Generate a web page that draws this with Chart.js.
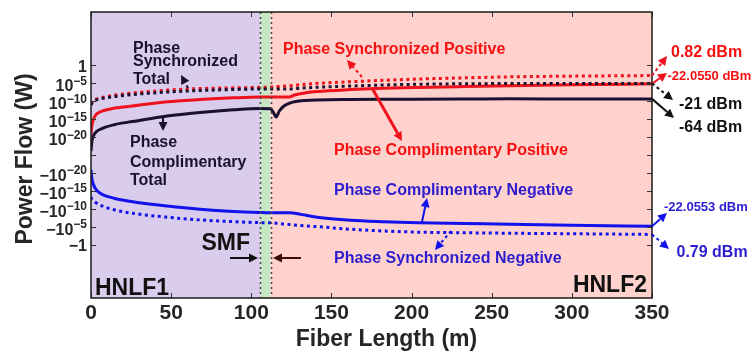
<!DOCTYPE html>
<html>
<head>
<meta charset="utf-8">
<script src="https://cdn.jsdelivr.net/npm/chart.js@4.4.1/dist/chart.umd.min.js"></script>
<style>
  html, body { margin: 0; padding: 0; background: #fff; }
  canvas { display: block; }
</style>
</head>
<body>
<canvas id="chart" width="751" height="352"></canvas>
<script>
// Fiber position of every sample (m)
const lengthM = [0, 0.5, 1, 2.5, 5.5, 15, 26, 47.5, 68, 89, 105.5, 112, 114, 115.5, 117.5,
                 120, 124, 127, 134, 141, 162, 182, 204, 233, 262, 300, 350];

// Power flow of each component along the fiber (W); negative-going flows are signed
const syncPositive = [1.5e-11, 3.8e-11, 7.2e-11, 2.6e-10, 6.8e-10, 4.6e-9, 1.7e-8, 1.1e-7, 3.0e-7, 4.6e-7,
                      6.4e-7, 7.7e-7, 8.8e-7, 1.0e-6, 1.1e-6, 1.3e-6, 1.8e-6, 2.4e-6, 4.6e-6, 8.3e-6,
                      2.3e-5, 5.6e-5, 1.3e-4, 2.8e-4, 5.3e-4, 8.3e-4, 1.208e-3];
const complPositive = [6.8e-20, 1.1e-17, 1.5e-16, 6.8e-15, 8.8e-14, 1.1e-12, 4.1e-12, 6.4e-11, 2.6e-10, 7.7e-10,
                       1.3e-9, 1.3e-9, 1.3e-9, 1.3e-9, 1.3e-9, 1.3e-9, 1.4e-9, 4.6e-9, 1.9e-8, 4.4e-8,
                       1.5e-7, 3.4e-7, 6.0e-7, 1.07e-6, 1.8e-6, 3.2e-6, 6.229e-6];
const syncTotal = [7.7e-12, 2.0e-11, 3.8e-11, 1.4e-10, 3.6e-10, 1.8e-9, 6.4e-9, 3.2e-8, 8.3e-8, 1.6e-7,
                   2.2e-7, 2.2e-7, 2.2e-7, 2.2e-7, 2.2e-7, 2.2e-7, 2.3e-7, 3.0e-7, 4.6e-7, 6.8e-7,
                   1.5e-6, 2.8e-6, 4.6e-6, 6.4e-6, 7.2e-6, 7.6e-6, 7.943e-6];
const complTotal = [1.3e-24, 4.1e-22, 5.3e-21, 1.3e-19, 1.2e-18, 3.0e-17, 2.0e-16, 6.8e-15, 6.4e-14, 3.6e-13,
                    8.3e-13, 6.8e-13, 4.6e-14, 3.6e-15, 1.7e-13, 3.0e-12, 2.8e-11, 6.4e-11, 1.4e-10, 1.9e-10,
                    2.6e-10, 3.0e-10, 3.2e-10, 3.6e-10, 4.1e-10, 3.9e-10, 3.981e-10];
const complNegative = [-1.5e-21, -2.5e-19, -3.2e-18, -1.5e-16, -3.6e-15, -1.2e-13, -9.3e-13, -1.5e-11, -1.2e-10, -4.9e-10,
                       -9.3e-10, -1.07e-9, -1.07e-9, -1.07e-9, -1.07e-9, -1.07e-9, -1.07e-9, -1.6e-9, -5.6e-9, -2.0e-8,
                       -1.4e-7, -3.4e-7, -6.4e-7, -1.07e-6, -1.8e-6, -3.4e-6, -6.229e-6];
const syncNegative = [-4.6e-14, -1.7e-13, -3.2e-13, -1.1e-12, -7.7e-12, -1.9e-10, -1.6e-9, -2.0e-8, -1.1e-7, -3.4e-7,
                      -6.4e-7, -6.8e-7, -7.7e-7, -9.3e-7, -1.1e-6, -1.5e-6, -2.2e-6, -3.0e-6, -5.3e-6, -8.3e-6,
                      -4.4e-5, -1.3e-4, -2.8e-4, -4.1e-4, -5.6e-4, -7.7e-4, -1.2e-3];

// Fiber sections: HNLF1 | SMF | HNLF2 (m)
const sectionBounds = [0, 105.5, 112, 350];
const sectionNames = ['HNLF1', 'SMF', 'HNLF2'];

// Axis ticks
const xTickStep = 50;
const yTickValues = [1, 1e-5, 1e-10, 1e-15, 1e-20, 0, -1e-20, -1e-15, -1e-10, -1e-5, -1];

// ---- signed logarithmic power axis: 5 decades per step, |P| below 1e-25 W folds onto zero ----
const DECADES_PER_STEP = 5;
const FLOOR_EXP = -25;
function toSteps(v) {
  if (!v) return 0;
  const s = (Math.log10(Math.abs(v)) - FLOOR_EXP) / DECADES_PER_STEP;
  return Math.sign(v) * Math.max(s, 0);
}
function fromSteps(t) {
  if (!t) return 0;
  return Math.sign(t) * Math.pow(10, Math.abs(t) * DECADES_PER_STEP + FLOOR_EXP);
}
class SignedLogScale extends Chart.LinearScale {
  buildTicks() { return yTickValues.map(v => ({ value: v })); }
  getPixelForValue(v) {
    if (v === null || v === undefined || isNaN(v)) return NaN;
    return super.getPixelForValue(toSteps(v));
  }
  getValueForPixel(p) { return fromSteps(super.getValueForPixel(p)); }
}
SignedLogScale.id = 'signedlog';
SignedLogScale.defaults = Chart.LinearScale.defaults;
Chart.register(SignedLogScale);

// ---- styles ----
const FONT = "'Liberation Sans', Arial, Helvetica, sans-serif";
const AXIS_INK = '#262626';
const NAVY = '#1a1030';
const RED_LINE = 'rgb(238,18,28)';
const RED_TEXT = 'rgb(246,16,16)';
const BLUE_LINE = 'rgb(18,18,236)';
const BLUE_TEXT = 'rgb(44,28,208)';
const DOTS = [3, 3.5];
const sectionFills = ['rgb(217,204,236)', 'rgb(198,230,196)', 'rgb(255,210,205)'];

const series = [
  { label: 'Phase Synchronized Total',    data: syncTotal,     color: NAVY,      dash: DOTS },
  { label: 'Phase Synchronized Positive', data: syncPositive,  color: RED_LINE,  dash: DOTS },
  { label: 'Phase Synchronized Negative', data: syncNegative,  color: BLUE_LINE, dash: DOTS },
  { label: 'Phase Complimentary Total',    data: complTotal,    color: NAVY,      dash: [] },
  { label: 'Phase Complimentary Positive', data: complPositive, color: RED_LINE,  dash: [] },
  { label: 'Phase Complimentary Negative', data: complNegative, color: BLUE_LINE, dash: [] }
];

function font(size) { return 'bold ' + size + 'px ' + FONT; }

// Annotation texts (canvas px, alphabetic baseline)
const notes = [
  { t: 'Phase', x: 133, y: 52.5, size: 16, color: NAVY },
  { t: 'Synchronized', x: 133, y: 66, size: 16, color: NAVY },
  { t: 'Total', x: 133, y: 84, size: 16, color: NAVY },
  { t: 'Phase', x: 130, y: 146.7, size: 16, color: NAVY },
  { t: 'Complimentary', x: 130, y: 166.7, size: 16, color: NAVY },
  { t: 'Total', x: 130, y: 185.4, size: 16, color: NAVY },
  { t: 'Phase Synchronized Positive', x: 283, y: 54, size: 16, color: RED_TEXT },
  { t: 'Phase Complimentary Positive', x: 334, y: 155.4, size: 16, color: RED_TEXT },
  { t: 'Phase Complimentary Negative', x: 334, y: 195, size: 16, color: BLUE_TEXT },
  { t: 'Phase Synchronized Negative', x: 334, y: 263.2, size: 16, color: BLUE_TEXT },
  { t: 'SMF', x: 201.5, y: 250, size: 23, color: '#111' },
  { t: 'HNLF1', x: 95, y: 295, size: 23, color: '#111' },
  { t: 'HNLF2', x: 647, y: 291.7, size: 23, color: '#111', align: 'right' },
  { t: '0.82 dBm', x: 671, y: 56.5, size: 16, color: RED_TEXT },
  { t: '-22.0550 dBm', x: 667.5, y: 80.2, size: 13, color: RED_TEXT },
  { t: '-21 dBm', x: 679, y: 109, size: 16, color: '#111' },
  { t: '-64 dBm', x: 679, y: 131.7, size: 16, color: '#111' },
  { t: '-22.0553 dBm', x: 664, y: 210.7, size: 13, color: BLUE_TEXT },
  { t: '0.79 dBm', x: 676.5, y: 257.3, size: 16, color: BLUE_TEXT }
];

// Pointer arrows inside the plot (canvas px)
const pointers = [
  { x1: 188, y1: 88, x2: 181, y2: 75, color: NAVY, dash: true, w: 2 },
  { x1: 163, y1: 116, x2: 163, y2: 131, color: NAVY, dash: false, w: 2 },
  { x1: 362, y1: 77, x2: 347, y2: 60, color: RED_LINE, dash: true, w: 2 },
  { x1: 372, y1: 88, x2: 402, y2: 141, color: RED_LINE, dash: false, w: 3 },
  { x1: 422, y1: 222, x2: 427, y2: 198, color: BLUE_LINE, dash: false, w: 2 },
  { x1: 451, y1: 231, x2: 435, y2: 250, color: BLUE_LINE, dash: true, w: 2 },
  { x1: 230, y1: 258, x2: 258, y2: 258, color: '#111', dash: false, w: 2 },
  { x1: 301, y1: 258, x2: 273, y2: 258, color: '#3a0d0d', dash: false, w: 2 }
];

// Arrows from the fiber end of a series to its output-power label
const endPointers = [
  { data: syncPositive,  x2: 667, y2: 56,  color: RED_LINE,  dash: true },
  { data: complPositive, x2: 667, y2: 73,  color: RED_LINE,  dash: false },
  { data: syncTotal,     x2: 673, y2: 100, color: '#111',    dash: true },
  { data: complTotal,    x2: 674, y2: 118, color: '#111',    dash: false },
  { data: complNegative, x2: 667, y2: 213, color: BLUE_LINE, dash: false },
  { data: syncNegative,  x2: 669, y2: 249, color: BLUE_LINE, dash: true }
];

function drawArrow(ctx, x1, y1, x2, y2, color, dashed, w) {
  const ang = Math.atan2(y2 - y1, x2 - x1);
  const hl = 9, hw = 4.5;
  const bx = x2 - hl * Math.cos(ang), by = y2 - hl * Math.sin(ang);
  ctx.save();
  ctx.strokeStyle = color; ctx.fillStyle = color; ctx.lineWidth = w;
  ctx.setLineDash(dashed ? [3, 3] : []);
  ctx.beginPath(); ctx.moveTo(x1, y1); ctx.lineTo(bx, by); ctx.stroke();
  ctx.setLineDash([]);
  ctx.beginPath();
  ctx.moveTo(x2, y2);
  ctx.lineTo(bx + hw * Math.sin(ang), by - hw * Math.cos(ang));
  ctx.lineTo(bx - hw * Math.sin(ang), by + hw * Math.cos(ang));
  ctx.closePath(); ctx.fill();
  ctx.restore();
}

function tickParts(v) {
  if (v === 0) return null;
  const sign = v < 0 ? '\u2212' : '';
  const e = Math.round(Math.log10(Math.abs(v)));
  if (e === 0) return { base: sign + '1', exp: '' };
  return { base: sign + '10', exp: (e < 0 ? '\u2212' : '') + Math.abs(e) };
}

const decorPlugin = {
  id: 'fiberDecor',
  beforeDatasetsDraw(chart) {
    const { ctx, chartArea: a, scales: { x } } = chart;
    ctx.save();
    for (let i = 0; i < sectionFills.length; i++) {
      const x0 = x.getPixelForValue(sectionBounds[i]);
      const x1 = x.getPixelForValue(sectionBounds[i + 1]);
      ctx.fillStyle = sectionFills[i];
      ctx.fillRect(x0, a.top, x1 - x0, a.bottom - a.top);
    }
    ctx.restore();
  },
  afterDatasetsDraw(chart) {
    const { ctx, chartArea: a, scales: { x, y } } = chart;
    ctx.save();
    // SMF section dividers
    ctx.strokeStyle = '#4a4a4a'; ctx.lineWidth = 1.6; ctx.setLineDash([2, 3]);
    [sectionBounds[1], sectionBounds[2]].forEach(v => {
      const px = Math.round(x.getPixelForValue(v)) + 0.5;
      ctx.beginPath(); ctx.moveTo(px, a.top); ctx.lineTo(px, a.bottom); ctx.stroke();
    });
    ctx.setLineDash([]);
    // inward tick marks on all four sides
    ctx.strokeStyle = '#333'; ctx.lineWidth = 1;
    x.ticks.forEach((t, i) => {
      const px = Math.round(x.getPixelForTick(i)) + 0.5;
      ctx.beginPath();
      ctx.moveTo(px, a.bottom); ctx.lineTo(px, a.bottom - 5);
      ctx.moveTo(px, a.top); ctx.lineTo(px, a.top + 5);
      ctx.stroke();
    });
    y.ticks.forEach((t, i) => {
      const py = Math.round(y.getPixelForTick(i)) + 0.5;
      ctx.beginPath();
      ctx.moveTo(a.left, py); ctx.lineTo(a.left + 5, py);
      ctx.moveTo(a.right, py); ctx.lineTo(a.right - 5, py);
      ctx.stroke();
    });
    // axes box
    ctx.strokeStyle = '#1a1a1a'; ctx.lineWidth = 1.5;
    ctx.strokeRect(a.left, a.top, a.right - a.left, a.bottom - a.top);
    ctx.restore();
  },
  afterDraw(chart) {
    const { ctx, chartArea: a, scales: { x, y } } = chart;
    ctx.save();
    // power tick labels with superscript exponents
    ctx.fillStyle = AXIS_INK; ctx.textAlign = 'left'; ctx.textBaseline = 'alphabetic';
    y.ticks.forEach((t, i) => {
      const p = tickParts(t.value);
      if (!p) return;
      const py = y.getPixelForTick(i);
      ctx.font = font(16);
      const wb = ctx.measureText(p.base).width;
      ctx.font = font(12);
      const we = p.exp ? ctx.measureText(p.exp).width : 0;
      const x0 = a.left - 4 - wb - we;
      ctx.font = font(16);
      ctx.fillText(p.base, x0, py + (p.exp ? 8 : 6.5));
      if (p.exp) { ctx.font = font(12); ctx.fillText(p.exp, x0 + wb, py + 1.5); }
    });
    // axis titles
    ctx.font = font(23); ctx.textAlign = 'center';
    ctx.fillText('Fiber Length (m)', 386.5, 346);
    ctx.save();
    ctx.translate(31.5, 159); ctx.rotate(-Math.PI / 2);
    ctx.fillText('Power Flow (W)', 0, 0);
    ctx.restore();
    // annotations
    notes.forEach(n => {
      ctx.font = font(n.size); ctx.fillStyle = n.color; ctx.textAlign = n.align || 'left';
      ctx.fillText(n.t, n.x, n.y);
    });
    pointers.forEach(p => drawArrow(ctx, p.x1, p.y1, p.x2, p.y2, p.color, p.dash, p.w));
    const xEnd = x.getPixelForValue(lengthM[lengthM.length - 1]);
    endPointers.forEach(p => {
      const yEnd = y.getPixelForValue(p.data[p.data.length - 1]);
      drawArrow(ctx, xEnd, yEnd, p.x2, p.y2, p.color, p.dash, 2);
    });
    ctx.restore();
  }
};

new Chart(document.getElementById('chart'), {
  type: 'line',
  data: {
    datasets: series.map(s => ({
      label: s.label,
      data: lengthM.map((m, i) => ({ x: m, y: s.data[i] })),
      borderColor: s.color,
      borderWidth: 3,
      borderDash: s.dash,
      borderCapStyle: 'butt',
      pointRadius: 0,
      cubicInterpolationMode: 'monotone',
      fill: false
    }))
  },
  options: {
    responsive: false,
    devicePixelRatio: 1,
    animation: false,
    events: [],
    layout: { padding: { top: 12, right: 99, left: 0, bottom: 0 } },
    plugins: { legend: { display: false }, tooltip: { enabled: false } },
    scales: {
      x: {
        type: 'linear', min: sectionBounds[0], max: sectionBounds[3],
        ticks: { stepSize: xTickStep, autoSkip: false, maxRotation: 0, padding: 3,
                 color: AXIS_INK, font: { family: FONT, size: 21, weight: 'bold' } },
        grid: { display: false, drawTicks: false },
        border: { display: false },
        afterFit(s) { s.height = 54; }
      },
      y: {
        type: 'signedlog', min: -7.95, max: 7.95,
        ticks: { display: false, autoSkip: false },
        grid: { display: false, drawTicks: false },
        border: { display: false },
        afterFit(s) { s.width = 91; }
      }
    }
  },
  plugins: [decorPlugin]
});
</script>
</body>
</html>
